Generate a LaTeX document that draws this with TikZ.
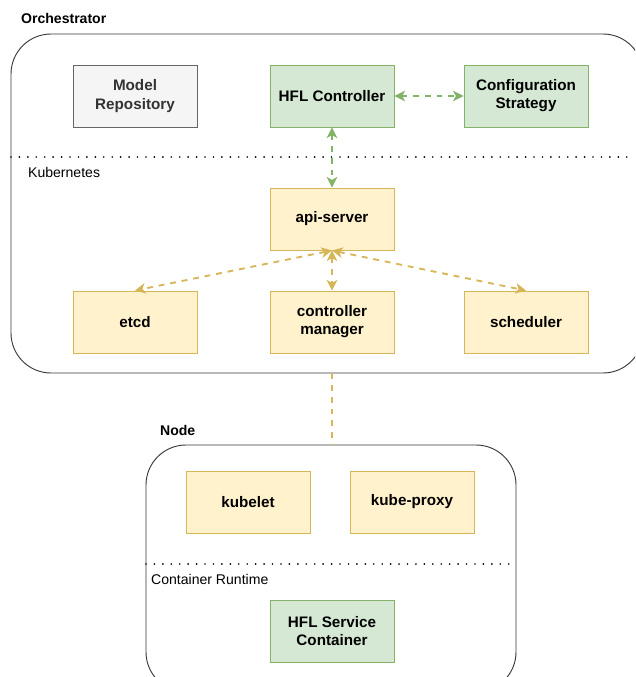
\documentclass[tikz,border=0pt]{standalone}
\usepackage{fontspec}
\setmainfont{Liberation Sans}
\usetikzlibrary{arrows.meta,fit}

\definecolor{greenfill}{HTML}{D5E8D4}
\definecolor{greendraw}{HTML}{82B366}
\definecolor{yellowfill}{HTML}{FFF2CC}
\definecolor{yellowdraw}{HTML}{D6B656}
\definecolor{greyfill}{HTML}{F5F5F5}
\definecolor{greydraw}{HTML}{666666}
\definecolor{greytext}{HTML}{333333}
\definecolor{framedraw}{HTML}{36393D}

\tikzset{
  box/.style={draw, line width=0.8pt, minimum width=3.72cm, minimum height=1.86cm,
    align=center, font=\fontsize{13}{15.5}\selectfont\bfseries},
  greenbox/.style={box, fill=greenfill, draw=greendraw},
  yellowbox/.style={box, fill=yellowfill, draw=yellowdraw},
  greybox/.style={box, fill=greyfill, draw=greydraw, text=greytext},
  frame/.style={draw=framedraw, line width=0.8pt, rounded corners=1.2cm, inner sep=0pt},
  sepline/.style={line width=1.6pt, dash pattern=on 0pt off 7.2pt, line cap=round},
  label/.style={anchor=west, font=\fontsize{12}{14}\selectfont},
  greenlink/.style={draw=greendraw, line width=1.6pt, dash pattern=on 5pt off 5pt,
    {Stealth[length=9pt,width=9pt,inset=2.5pt]}-{Stealth[length=9pt,width=9pt,inset=2.5pt]}},
  yellowlink/.style={draw=yellowdraw, line width=1.6pt, dash pattern=on 5pt off 5pt,
    {Stealth[length=9pt,width=9pt,inset=2.5pt]}-{Stealth[length=9pt,width=9pt,inset=2.5pt]}},
}

\begin{document}
\begin{tikzpicture}[x=0.03cm, y=-0.03cm]
\useasboundingbox (0,0) rectangle (635,677);
\clip (0,0) rectangle (635,677);

  % containers
  \node [frame, fit={(11,34) (643,373)}] (orch) {};
  \node [frame, fit={(146,445) (516,692)}] (worker) {};

  \node [label, font=\fontsize{12}{14}\selectfont\bfseries] (orchlbl) at (17,18) {Orchestrator};
  \node [label] (kubelbl) at (24,172) {Kubernetes};
  \node [label, font=\fontsize{12}{14}\selectfont\bfseries] (nodelbl) at (156,430) {Node};
  \node [label] (rtlbl) at (147,579) {Container Runtime};

  \draw [sepline] (11,157) -- (635,157);
  \draw [sepline] (146,564) -- (516,564);

  % orchestrator
  \node [greybox]   (repo)   at (135,96)  {Model\\Repository};
  \node [greenbox]  (hflc)   at (332,96)  {HFL Controller};
  \node [greenbox]  (config) at (526,96)  {Configuration\\Strategy};

  \node [yellowbox] (api)    at (332,219) {api-server};
  \node [yellowbox] (etcd)   at (135,322) {etcd};
  \node [yellowbox] (ctrl)   at (332,322) {controller\\manager};
  \node [yellowbox] (sched)  at (526,322) {scheduler};

  % worker node
  \node [yellowbox] (kubelet) at (248,502) {kubelet};
  \node [yellowbox] (proxy)   at (412,502) {kube-proxy};
  \node [greenbox]  (svc)     at (332,631) {HFL Service\\Container};

  % links
  \draw [greenlink] (hflc.east) -- (config.west);
  \draw [greenlink] (hflc.south) -- (api.north);

  \draw [yellowlink] (api.south) -- (etcd.north);
  \draw [yellowlink] (api.south) -- (ctrl.north);
  \draw [yellowlink] (api.south) -- (sched.north);

  \draw [draw=yellowdraw, line width=1.6pt, dash pattern=on 5pt off 5pt]
    (api |- orch.south) -- (api |- worker.north);
\end{tikzpicture}
\end{document}
